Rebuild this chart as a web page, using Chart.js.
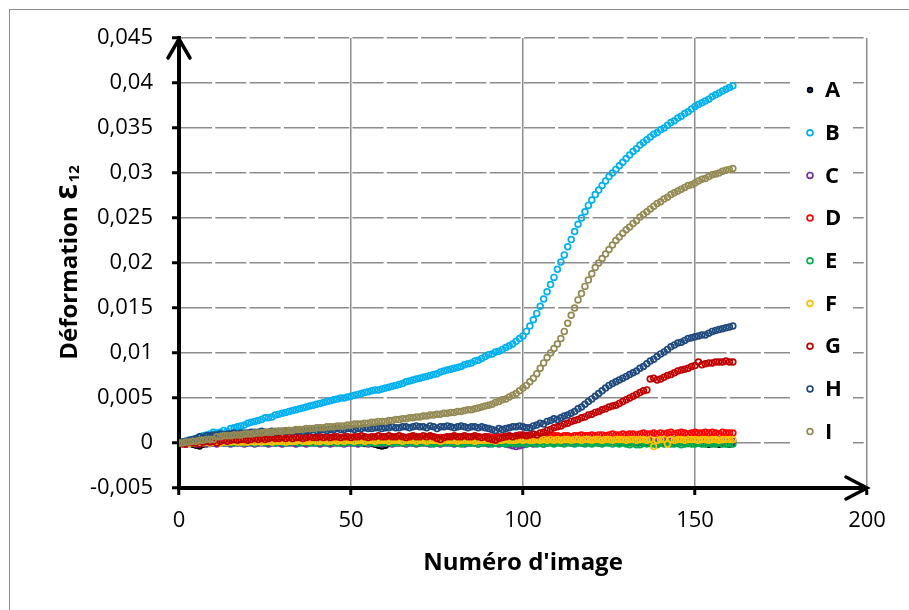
<!DOCTYPE html>
<html>
<head>
<meta charset="utf-8">
<script src="https://cdn.jsdelivr.net/npm/chart.js@4/dist/chart.umd.min.js"></script>
<style>
  html, body { margin: 0; padding: 0; background: #fff; }
  canvas { display: block; }
</style>
</head>
<body>
<canvas id="chart" width="909" height="610"></canvas>
<script>
// series names and colours (Excel palette)
const seriesNames = ['A', 'B', 'C', 'D', 'E', 'F', 'G', 'H', 'I'];
const seriesColors = ['#000000', '#00B0F0', '#7030A0', '#FF0000', '#00B050', '#FFC000', '#C00000', '#1F497D', '#948A54'];
const xTicks = [0, 50, 100, 150, 200];
const yTicks = [-0.005, 0, 0.005, 0.01, 0.015, 0.02, 0.025, 0.03, 0.035, 0.04, 0.045];
const xTitle = "Numéro d'image";
const yTitle = 'Déformation Ɛ';
const yTitleSub = '12';

// values, one per image (0..161)
const serieA = [
  0.0000, -0.0001, -0.0002, -0.0001, -0.0002, -0.0003, -0.0004, -0.0002, -0.0001, -0.0001,
  0.0000, 0.0000, 0.0001, 0.0000, 0.0001, 0.0000, 0.0001, 0.0000, 0.0001, 0.0001,
  0.0000, 0.0001, 0.0001, 0.0000, 0.0001, 0.0001, 0.0000, 0.0001, 0.0000, 0.0001,
  0.0001, 0.0000, 0.0001, 0.0001, 0.0000, 0.0001, 0.0001, 0.0000, 0.0001, 0.0000,
  0.0001, 0.0001, 0.0000, 0.0001, 0.0000, 0.0001, 0.0001, 0.0000, 0.0001, 0.0000,
  0.0000, 0.0001, 0.0000, 0.0000, -0.0001, 0.0000, -0.0001, -0.0002, -0.0003, -0.0004,
  -0.0003, -0.0001, 0.0000, 0.0001, 0.0000, 0.0001, 0.0002, 0.0001, 0.0002, 0.0002,
  0.0003, 0.0002, 0.0003, 0.0003, 0.0002, 0.0003, 0.0004, 0.0003, 0.0004, 0.0004,
  0.0004, 0.0005, 0.0004, 0.0005, 0.0005, 0.0004, 0.0005, 0.0006, 0.0005, 0.0006,
  0.0006, 0.0007, 0.0006, 0.0007, 0.0007, 0.0008, 0.0007, 0.0006, 0.0007, 0.0007,
  0.0006, 0.0007, 0.0006, 0.0007, 0.0007, 0.0007, 0.0006, 0.0007, 0.0006, 0.0006,
  0.0006, 0.0006, 0.0005, 0.0005, 0.0004, 0.0004, 0.0003, 0.0003, 0.0002, 0.0002,
  0.0002, 0.0001, 0.0002, 0.0001, 0.0001, 0.0000, 0.0001, 0.0000, 0.0000, 0.0001,
  0.0000, 0.0000, -0.0001, 0.0000, 0.0000, -0.0001, 0.0000, -0.0001, 0.0000, -0.0001,
  0.0000, -0.0001, -0.0001, 0.0000, -0.0001, -0.0001, 0.0000, -0.0001, -0.0001, -0.0001,
  -0.0001, 0.0000, -0.0001, -0.0001, -0.0002, -0.0001, -0.0001, -0.0002, -0.0001, -0.0001,
  -0.0002, -0.0001
];
const serieB = [
  0.0000, 0.0001, 0.0002, 0.0003, 0.0004, 0.0005, 0.0007, 0.0008, 0.0009, 0.0010,
  0.0012, 0.0011, 0.0012, 0.0014, 0.0013, 0.0016, 0.0017, 0.0018, 0.0019, 0.0020,
  0.0022, 0.0023, 0.0024, 0.0025, 0.0026, 0.0028, 0.0028, 0.0029, 0.0031, 0.0032,
  0.0033, 0.0034, 0.0035, 0.0036, 0.0037, 0.0038, 0.0039, 0.0040, 0.0041, 0.0042,
  0.0043, 0.0044, 0.0045, 0.0046, 0.0047, 0.0048, 0.0049, 0.0050, 0.0050, 0.0051,
  0.0052, 0.0053, 0.0054, 0.0055, 0.0056, 0.0057, 0.0058, 0.0059, 0.0059, 0.0060,
  0.0061, 0.0062, 0.0063, 0.0064, 0.0065, 0.0066, 0.0068, 0.0069, 0.0070, 0.0071,
  0.0072, 0.0073, 0.0074, 0.0075, 0.0076, 0.0077, 0.0079, 0.0080, 0.0081, 0.0082,
  0.0083, 0.0084, 0.0085, 0.0087, 0.0088, 0.0089, 0.0091, 0.0092, 0.0094, 0.0096,
  0.0098, 0.0099, 0.0101, 0.0102, 0.0104, 0.0106, 0.0108, 0.0110, 0.0113, 0.0116,
  0.0119, 0.0124, 0.0130, 0.0137, 0.0144, 0.0152, 0.0160, 0.0168, 0.0176, 0.0184,
  0.0193, 0.0201, 0.0209, 0.0218, 0.0226, 0.0235, 0.0243, 0.0250, 0.0257, 0.0264,
  0.0270, 0.0276, 0.0281, 0.0286, 0.0291, 0.0296, 0.0300, 0.0304, 0.0308, 0.0312,
  0.0316, 0.0320, 0.0324, 0.0327, 0.0331, 0.0334, 0.0337, 0.0340, 0.0343, 0.0345,
  0.0348, 0.0350, 0.0353, 0.0356, 0.0358, 0.0361, 0.0363, 0.0366, 0.0368, 0.0371,
  0.0374, 0.0376, 0.0378, 0.0380, 0.0382, 0.0385, 0.0387, 0.0389, 0.0391, 0.0393,
  0.0395, 0.0397
];
const serieC = [
  0.0000, 0.0000, -0.0001, 0.0000, 0.0000, -0.0001, 0.0000, 0.0000, -0.0001, 0.0000,
  0.0000, -0.0001, 0.0000, 0.0000, 0.0000, -0.0001, 0.0000, 0.0000, 0.0000, -0.0001,
  0.0000, 0.0000, -0.0001, 0.0000, 0.0000, 0.0000, -0.0001, 0.0000, 0.0000, 0.0000,
  -0.0001, 0.0000, 0.0000, 0.0000, -0.0001, 0.0000, 0.0000, -0.0001, 0.0000, 0.0000,
  0.0000, -0.0001, 0.0000, 0.0000, -0.0001, 0.0000, 0.0000, 0.0000, -0.0001, 0.0000,
  0.0000, 0.0000, -0.0001, 0.0000, 0.0000, -0.0001, 0.0000, 0.0000, 0.0000, -0.0001,
  0.0000, 0.0000, -0.0001, 0.0000, 0.0000, 0.0000, -0.0001, 0.0000, 0.0000, -0.0001,
  0.0000, 0.0000, 0.0000, -0.0001, 0.0000, 0.0000, -0.0001, 0.0000, 0.0000, 0.0000,
  -0.0001, 0.0000, 0.0000, -0.0001, 0.0000, 0.0000, 0.0000, -0.0001, 0.0000, 0.0000,
  -0.0001, 0.0000, 0.0000, -0.0001, 0.0000, -0.0001, -0.0002, -0.0003, -0.0004, -0.0003,
  -0.0002, -0.0001, 0.0000, -0.0001, 0.0000, 0.0000, -0.0001, 0.0000, 0.0001, 0.0000,
  0.0001, 0.0000, 0.0001, 0.0001, 0.0000, 0.0001, 0.0001, 0.0000, 0.0001, 0.0001,
  0.0001, 0.0001, 0.0000, 0.0001, 0.0001, 0.0001, 0.0002, 0.0001, 0.0001, 0.0002,
  0.0001, 0.0002, 0.0001, 0.0002, 0.0002, 0.0001, 0.0002, 0.0002, 0.0001, 0.0002,
  0.0002, 0.0002, 0.0001, 0.0002, 0.0002, 0.0002, 0.0001, 0.0002, 0.0002, 0.0002,
  0.0002, 0.0001, 0.0002, 0.0002, 0.0002, 0.0002, 0.0001, 0.0002, 0.0002, 0.0002,
  0.0002, 0.0002
];
const serieD = [
  0.0000, 0.0000, -0.0001, 0.0000, 0.0001, 0.0000, 0.0001, 0.0000, 0.0001, 0.0001,
  0.0001, 0.0002, 0.0001, 0.0001, 0.0002, 0.0001, 0.0002, 0.0002, 0.0001, 0.0002,
  0.0002, 0.0003, 0.0002, 0.0002, 0.0003, 0.0002, 0.0003, 0.0003, 0.0002, 0.0003,
  0.0003, 0.0003, 0.0004, 0.0003, 0.0003, 0.0004, 0.0003, 0.0004, 0.0004, 0.0003,
  0.0004, 0.0004, 0.0003, 0.0004, 0.0004, 0.0005, 0.0004, 0.0004, 0.0005, 0.0004,
  0.0004, 0.0005, 0.0004, 0.0005, 0.0005, 0.0004, 0.0005, 0.0005, 0.0004, 0.0005,
  0.0005, 0.0005, 0.0006, 0.0005, 0.0005, 0.0006, 0.0005, 0.0005, 0.0006, 0.0005,
  0.0006, 0.0005, 0.0006, 0.0006, 0.0005, 0.0006, 0.0006, 0.0005, 0.0006, 0.0006,
  0.0006, 0.0005, 0.0006, 0.0006, 0.0007, 0.0006, 0.0006, 0.0007, 0.0006, 0.0006,
  0.0007, 0.0006, 0.0006, 0.0007, 0.0006, 0.0007, 0.0007, 0.0006, 0.0007, 0.0007,
  0.0007, 0.0006, 0.0007, 0.0007, 0.0008, 0.0007, 0.0007, 0.0008, 0.0007, 0.0008,
  0.0008, 0.0007, 0.0008, 0.0008, 0.0007, 0.0008, 0.0008, 0.0009, 0.0008, 0.0008,
  0.0009, 0.0008, 0.0009, 0.0009, 0.0008, 0.0009, 0.0010, 0.0009, 0.0009, 0.0010,
  0.0009, 0.0010, 0.0010, 0.0009, 0.0010, 0.0011, 0.0010, 0.0010, 0.0011, 0.0010,
  0.0011, 0.0010, 0.0011, 0.0012, 0.0010, 0.0011, 0.0012, 0.0011, 0.0010, 0.0011,
  0.0012, 0.0011, 0.0011, 0.0012, 0.0011, 0.0012, 0.0011, 0.0010, 0.0012, 0.0011,
  0.0011, 0.0011
];
const serieE = [
  0.0000, 0.0000, 0.0001, 0.0000, 0.0000, 0.0001, 0.0000, 0.0000, 0.0001, 0.0000,
  0.0001, 0.0000, 0.0001, 0.0001, 0.0000, 0.0001, 0.0000, 0.0001, 0.0001, 0.0000,
  0.0001, 0.0001, 0.0000, 0.0001, 0.0001, 0.0000, 0.0001, 0.0001, 0.0000, 0.0001,
  0.0001, 0.0000, 0.0001, 0.0001, 0.0001, 0.0000, 0.0001, 0.0001, 0.0000, 0.0001,
  0.0000, 0.0001, 0.0001, 0.0000, 0.0001, 0.0001, 0.0000, 0.0001, 0.0000, 0.0001,
  0.0001, 0.0000, 0.0001, 0.0000, 0.0001, 0.0000, 0.0001, 0.0000, 0.0000, 0.0001,
  0.0000, 0.0001, 0.0000, 0.0000, 0.0001, 0.0000, 0.0000, 0.0001, 0.0000, 0.0000,
  0.0000, 0.0001, 0.0000, 0.0000, -0.0001, 0.0000, 0.0000, 0.0000, 0.0001, 0.0000,
  0.0000, 0.0000, -0.0001, 0.0000, 0.0000, 0.0000, 0.0000, -0.0001, 0.0000, 0.0000,
  0.0000, -0.0001, 0.0000, 0.0000, 0.0000, -0.0001, 0.0000, 0.0000, -0.0001, 0.0000,
  0.0000, -0.0001, 0.0000, 0.0000, -0.0001, 0.0000, -0.0001, 0.0000, 0.0000, -0.0001,
  0.0000, 0.0000, -0.0001, 0.0000, 0.0000, -0.0001, 0.0000, 0.0000, -0.0001, 0.0000,
  -0.0001, 0.0000, 0.0000, -0.0001, 0.0000, 0.0000, -0.0001, 0.0000, -0.0001, 0.0000,
  -0.0001, -0.0002, 0.0000, -0.0002, -0.0002, 0.0000, -0.0001, 0.0000, -0.0001, -0.0002,
  0.0000, -0.0001, 0.0000, -0.0001, -0.0001, 0.0000, -0.0002, -0.0001, 0.0000, -0.0001,
  -0.0001, 0.0000, -0.0001, -0.0001, 0.0000, -0.0001, -0.0001, 0.0000, -0.0001, -0.0001,
  -0.0001, -0.0001
];
const serieF = [
  0.0000, 0.0000, 0.0001, 0.0000, 0.0000, 0.0001, 0.0000, 0.0001, 0.0001, 0.0000,
  0.0001, 0.0001, 0.0000, 0.0001, 0.0001, 0.0001, 0.0002, 0.0001, 0.0001, 0.0001,
  0.0001, 0.0002, 0.0001, 0.0002, 0.0001, 0.0002, 0.0002, 0.0001, 0.0002, 0.0002,
  0.0002, 0.0001, 0.0002, 0.0002, 0.0002, 0.0003, 0.0002, 0.0002, 0.0002, 0.0003,
  0.0002, 0.0002, 0.0003, 0.0002, 0.0002, 0.0003, 0.0002, 0.0003, 0.0002, 0.0003,
  0.0003, 0.0002, 0.0003, 0.0003, 0.0002, 0.0003, 0.0003, 0.0002, 0.0003, 0.0003,
  0.0003, 0.0002, 0.0003, 0.0003, 0.0003, 0.0002, 0.0003, 0.0003, 0.0003, 0.0002,
  0.0003, 0.0003, 0.0002, 0.0003, 0.0003, 0.0003, 0.0002, 0.0003, 0.0003, 0.0003,
  0.0003, 0.0002, 0.0003, 0.0003, 0.0003, 0.0003, 0.0002, 0.0003, 0.0003, 0.0003,
  0.0003, 0.0003, 0.0002, 0.0003, 0.0003, 0.0004, 0.0003, 0.0003, 0.0003, 0.0004,
  0.0003, 0.0004, 0.0003, 0.0003, 0.0004, 0.0003, 0.0004, 0.0003, 0.0004, 0.0003,
  0.0004, 0.0003, 0.0004, 0.0004, 0.0003, 0.0004, 0.0004, 0.0003, 0.0004, 0.0004,
  0.0003, 0.0004, 0.0004, 0.0003, 0.0004, 0.0004, 0.0003, 0.0004, 0.0004, 0.0004,
  0.0003, 0.0004, 0.0004, 0.0003, 0.0004, 0.0004, 0.0003, 0.0004, -0.0004, 0.0003,
  0.0004, 0.0004, -0.0001, 0.0004, 0.0003, 0.0004, 0.0004, 0.0003, 0.0004, 0.0004,
  0.0004, 0.0003, 0.0004, 0.0004, 0.0003, 0.0004, 0.0004, 0.0003, 0.0004, 0.0004,
  0.0004, 0.0004
];
const serieG = [
  0.0000, -0.0001, 0.0000, 0.0001, 0.0000, 0.0001, -0.0001, 0.0001, 0.0002, 0.0001,
  0.0002, 0.0000, 0.0002, 0.0003, 0.0002, 0.0003, 0.0004, 0.0003, 0.0004, 0.0004,
  0.0003, 0.0004, 0.0005, 0.0004, 0.0005, 0.0004, 0.0005, 0.0006, 0.0005, 0.0005,
  0.0006, 0.0005, 0.0006, 0.0005, 0.0006, 0.0006, 0.0005, 0.0006, 0.0007, 0.0006,
  0.0006, 0.0007, 0.0006, 0.0007, 0.0006, 0.0007, 0.0007, 0.0006, 0.0007, 0.0007,
  0.0006, 0.0007, 0.0007, 0.0008, 0.0007, 0.0006, 0.0007, 0.0007, 0.0008, 0.0007,
  0.0007, 0.0008, 0.0007, 0.0007, 0.0008, 0.0007, 0.0006, 0.0007, 0.0008, 0.0007,
  0.0007, 0.0008, 0.0007, 0.0008, 0.0007, 0.0005, 0.0004, 0.0006, 0.0007, 0.0007,
  0.0008, 0.0007, 0.0007, 0.0008, 0.0007, 0.0007, 0.0008, 0.0007, 0.0006, 0.0007,
  0.0005, 0.0004, 0.0003, 0.0005, 0.0006, 0.0007, 0.0008, 0.0007, 0.0008, 0.0009,
  0.0009, 0.0008, 0.0009, 0.0010, 0.0009, 0.0011, 0.0012, 0.0014, 0.0015, 0.0017,
  0.0018, 0.0019, 0.0021, 0.0022, 0.0024, 0.0025, 0.0026, 0.0028, 0.0029, 0.0031,
  0.0032, 0.0034, 0.0035, 0.0037, 0.0038, 0.0040, 0.0041, 0.0042, 0.0044, 0.0046,
  0.0048, 0.0050, 0.0052, 0.0054, 0.0056, 0.0058, 0.0059, 0.0071, 0.0072, 0.0070,
  0.0071, 0.0073, 0.0075, 0.0076, 0.0078, 0.0080, 0.0081, 0.0082, 0.0083, 0.0085,
  0.0086, 0.0090, 0.0087, 0.0088, 0.0089, 0.0089, 0.0090, 0.0090, 0.0090, 0.0091,
  0.0090, 0.0090
];
const serieH = [
  0.0000, 0.0001, 0.0002, 0.0003, 0.0004, 0.0005, 0.0007, 0.0006, 0.0008, 0.0008,
  0.0009, 0.0009, 0.0010, 0.0009, 0.0010, 0.0010, 0.0011, 0.0010, 0.0011, 0.0011,
  0.0011, 0.0012, 0.0012, 0.0012, 0.0013, 0.0012, 0.0012, 0.0013, 0.0012, 0.0013,
  0.0013, 0.0013, 0.0014, 0.0013, 0.0014, 0.0014, 0.0013, 0.0014, 0.0014, 0.0015,
  0.0014, 0.0015, 0.0015, 0.0014, 0.0015, 0.0015, 0.0016, 0.0015, 0.0015, 0.0016,
  0.0016, 0.0015, 0.0016, 0.0016, 0.0017, 0.0016, 0.0016, 0.0017, 0.0017, 0.0016,
  0.0017, 0.0017, 0.0018, 0.0017, 0.0017, 0.0018, 0.0018, 0.0017, 0.0018, 0.0019,
  0.0018, 0.0018, 0.0017, 0.0019, 0.0018, 0.0016, 0.0018, 0.0018, 0.0019, 0.0018,
  0.0017, 0.0018, 0.0019, 0.0018, 0.0017, 0.0018, 0.0018, 0.0017, 0.0018, 0.0017,
  0.0016, 0.0015, 0.0014, 0.0016, 0.0015, 0.0016, 0.0017, 0.0018, 0.0018, 0.0019,
  0.0018, 0.0017, 0.0017, 0.0019, 0.0020, 0.0022, 0.0021, 0.0024, 0.0025, 0.0027,
  0.0026, 0.0028, 0.0030, 0.0031, 0.0033, 0.0035, 0.0038, 0.0040, 0.0043, 0.0046,
  0.0049, 0.0052, 0.0055, 0.0058, 0.0061, 0.0064, 0.0066, 0.0068, 0.0070, 0.0072,
  0.0074, 0.0076, 0.0078, 0.0080, 0.0083, 0.0085, 0.0088, 0.0091, 0.0093, 0.0096,
  0.0099, 0.0101, 0.0104, 0.0107, 0.0109, 0.0111, 0.0112, 0.0114, 0.0116, 0.0117,
  0.0118, 0.0119, 0.0120, 0.0120, 0.0122, 0.0124, 0.0125, 0.0126, 0.0127, 0.0128,
  0.0129, 0.0130
];
const serieI = [
  0.0000, 0.0000, 0.0001, 0.0001, 0.0002, 0.0002, 0.0003, 0.0003, 0.0004, 0.0004,
  0.0004, 0.0007, 0.0007, 0.0008, 0.0008, 0.0008, 0.0009, 0.0009, 0.0009, 0.0010,
  0.0010, 0.0010, 0.0011, 0.0011, 0.0011, 0.0012, 0.0012, 0.0012, 0.0013, 0.0013,
  0.0013, 0.0014, 0.0014, 0.0014, 0.0015, 0.0015, 0.0015, 0.0016, 0.0016, 0.0016,
  0.0017, 0.0017, 0.0017, 0.0018, 0.0018, 0.0018, 0.0019, 0.0019, 0.0019, 0.0020,
  0.0020, 0.0021, 0.0021, 0.0021, 0.0022, 0.0022, 0.0023, 0.0023, 0.0024, 0.0024,
  0.0024, 0.0025, 0.0025, 0.0026, 0.0026, 0.0027, 0.0027, 0.0028, 0.0028, 0.0029,
  0.0029, 0.0030, 0.0030, 0.0031, 0.0031, 0.0032, 0.0032, 0.0033, 0.0033, 0.0034,
  0.0034, 0.0035, 0.0035, 0.0036, 0.0037, 0.0037, 0.0038, 0.0039, 0.0040, 0.0041,
  0.0042, 0.0043, 0.0045, 0.0046, 0.0048, 0.0049, 0.0051, 0.0053, 0.0055, 0.0058,
  0.0061, 0.0064, 0.0068, 0.0072, 0.0077, 0.0083, 0.0089, 0.0095, 0.0100, 0.0105,
  0.0110, 0.0116, 0.0124, 0.0133, 0.0142, 0.0150, 0.0159, 0.0166, 0.0174, 0.0181,
  0.0188, 0.0195, 0.0200, 0.0205, 0.0210, 0.0215, 0.0220, 0.0225, 0.0229, 0.0233,
  0.0237, 0.0240, 0.0244, 0.0247, 0.0251, 0.0254, 0.0257, 0.0260, 0.0263, 0.0266,
  0.0268, 0.0271, 0.0273, 0.0276, 0.0278, 0.0280, 0.0282, 0.0284, 0.0286, 0.0287,
  0.0289, 0.0291, 0.0293, 0.0294, 0.0296, 0.0298, 0.0299, 0.0300, 0.0302, 0.0303,
  0.0304, 0.0305
];

const seriesValues = [serieA, serieB, serieC, serieD, serieE, serieF, serieG, serieH, serieI];
const images = serieA.map((_, i) => i);

const FONT = "'Open Sans', 'DejaVu Sans', sans-serif";
const GRID = '#8c8c8c';

function fmt(v) {
  return Number(v.toFixed(4)).toString().replace('.', ',');
}

const datasets = seriesValues.map((vals, i) => ({
  label: seriesNames[i],
  data: vals.map((v, k) => ({ x: images[k], y: v })),
  showLine: false,
  pointRadius: i === 0 ? 2.4 : 2.9,
  pointBorderWidth: 1.7,
  pointBorderColor: seriesColors[i],
  pointBackgroundColor: i === 0 ? '#243F60' : 'rgba(0,0,0,0)',
  order: seriesNames.length - 1 - i   // last series drawn on top, like Excel
}));

// frame, arrows, titles and legend drawn straight on the canvas
const extras = {
  id: 'extras',
  afterDraw(chart) {
    const ctx = chart.ctx;
    const a = chart.chartArea;
    ctx.save();

    // outer chart frame
    ctx.strokeStyle = '#8c8c8c';
    ctx.lineWidth = 1;
    ctx.strokeRect(9.5, 9.5, 1000, 1000);

    // arrow heads on the axes
    ctx.strokeStyle = '#000';
    ctx.lineWidth = 3.5;
    ctx.lineCap = 'round';
    ctx.beginPath();
    ctx.moveTo(a.left - 11, a.top + 20);
    ctx.lineTo(a.left, a.top + 1);
    ctx.lineTo(a.left + 11, a.top + 20);
    ctx.moveTo(a.right - 21, a.bottom - 11);
    ctx.lineTo(a.right, a.bottom);
    ctx.lineTo(a.right - 21, a.bottom + 11);
    ctx.stroke();

    // axis titles
    ctx.fillStyle = '#000';
    ctx.font = 'bold 24px ' + FONT;
    ctx.textAlign = 'center';
    ctx.textBaseline = 'alphabetic';
    ctx.fillText(xTitle, (a.left + a.right) / 2, 570);

    ctx.translate(77, (a.top + a.bottom) / 2);
    ctx.rotate(-Math.PI / 2);
    ctx.textAlign = 'left';
    const w1 = ctx.measureText(yTitle).width;
    ctx.font = 'bold 15px ' + FONT;
    const w2 = ctx.measureText(yTitleSub).width;
    const x0 = -(w1 + w2) / 2;
    ctx.font = 'bold 24px ' + FONT;
    ctx.fillText(yTitle, x0, 0);
    ctx.font = 'bold 15px ' + FONT;
    ctx.fillText(yTitleSub, x0 + w1 + 1, 2);
    ctx.setTransform(1, 0, 0, 1, 0, 0);

    // legend inside the plot area
    ctx.fillStyle = '#fff';
    ctx.fillRect(790, 62, 63, 398);
    ctx.font = 'bold 22px ' + FONT;
    ctx.textAlign = 'left';
    ctx.textBaseline = 'middle';
    seriesNames.forEach((name, i) => {
      const y = 90 + i * 42.7;
      ctx.beginPath();
      ctx.arc(810, y, i === 0 ? 2.4 : 2.9, 0, Math.PI * 2);
      ctx.lineWidth = 1.7;
      ctx.strokeStyle = seriesColors[i];
      if (i === 0) { ctx.fillStyle = '#243F60'; ctx.fill(); }
      ctx.stroke();
      ctx.fillStyle = '#000';
      ctx.fillText(name, 825, y + 1);
    });
    ctx.restore();
  }
};

new Chart(document.getElementById('chart'), {
  type: 'scatter',
  data: { datasets },
  options: {
    responsive: false,
    animation: false,
    devicePixelRatio: 1,
    layout: { padding: { top: 38, right: 42, left: 0, bottom: 0 } },
    plugins: {
      legend: { display: false },
      tooltip: { enabled: false }
    },
    scales: {
      x: {
        type: 'linear',
        min: 0,
        max: 200,
        afterBuildTicks: s => { s.ticks = xTicks.map(v => ({ value: v })); },
        afterFit: s => { s.height = 122; },
        ticks: {
          color: '#000',
          font: { family: FONT, size: 22 },
          padding: 13,
          maxRotation: 0
        },
        grid: {
          color: GRID,
          lineWidth: 1.5,
          tickColor: '#000',
          tickWidth: 3,
          tickLength: 7
        },
        border: { display: true, color: '#000', width: 4 }
      },
      y: {
        type: 'linear',
        min: -0.005,
        max: 0.045,
        afterBuildTicks: s => { s.ticks = yTicks.map(v => ({ value: v })); },
        afterFit: s => { s.width = 179; },
        ticks: {
          color: '#000',
          font: { family: FONT, size: 22 },
          padding: 19,
          callback: v => fmt(v)
        },
        grid: {
          color: GRID,
          lineWidth: 1.5,
          tickColor: '#000',
          tickWidth: 3,
          tickLength: 7
        },
        border: { display: true, color: '#000', width: 4, dash: [31, 3.3] }
      }
    }
  },
  plugins: [extras]
});
</script>
</body>
</html>
